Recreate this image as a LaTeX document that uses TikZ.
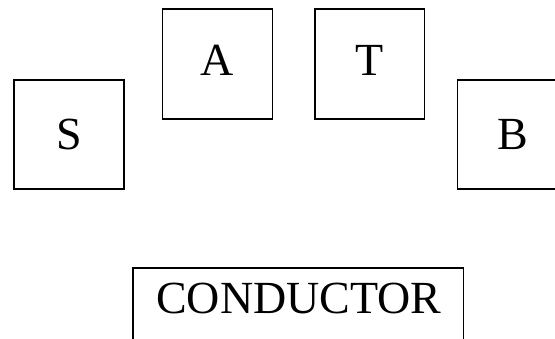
\documentclass[tikz,border=0pt]{standalone}
\usepackage{fontspec}
\setmainfont{Liberation Serif}
\begin{document}
\begin{tikzpicture}[x=1pt,y=-1pt,
  box/.style={draw=black,line width=1.3pt,fill=white,inner sep=0pt},
  lbl/.style={font=\fontsize{46}{52}\selectfont,inner sep=0pt,anchor=base}]
\useasboundingbox (0,0) rectangle (555,339);
\begin{scope}
\clip (0,0) rectangle (555,339);
% letter boxes
\draw[box] (14,80) rectangle (124,189);
\draw[box] (162.5,9) rectangle (272.5,119);
\draw[box] (315,9) rectangle (424.5,119);
\draw[box] (457.5,80) rectangle (570,189);
\draw[box] (133,268) rectangle (463.5,360);
\end{scope}
\node[lbl] (s) at (69,150) {S};
\node[lbl] (a) at (217.5,76) {A};
\node[lbl] (t) at (370,76) {T};
\node[lbl] (b) at (513,150) {B};
\node[lbl] (c) at (299,314) {CONDUCTOR};
\end{tikzpicture}
\end{document}
